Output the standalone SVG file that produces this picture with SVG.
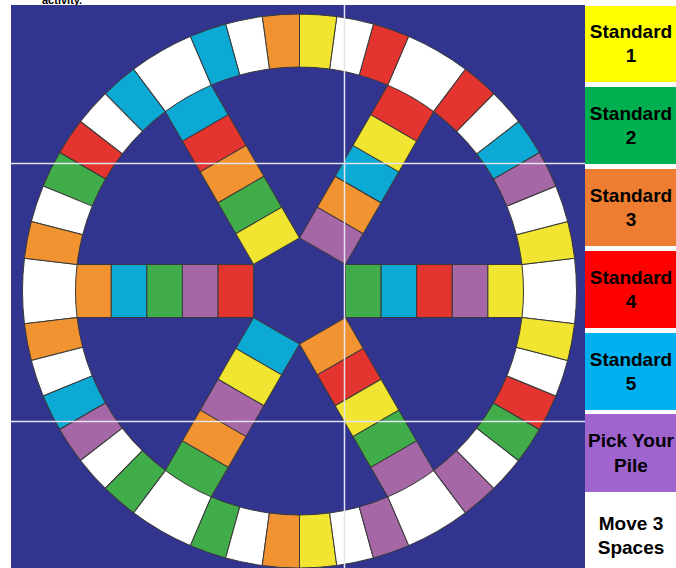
<svg xmlns="http://www.w3.org/2000/svg" xmlns:xlink="http://www.w3.org/1999/xlink" width="676" height="568" viewBox="0 0 676 568">
<style>
.c{stroke:#3a3a3a;stroke-width:1;stroke-linejoin:round}
.Y{fill:#f2e531}.O{fill:#f29331}.R{fill:#e3342f}.G{fill:#40ad4a}.C{fill:#0ca9d5}.P{fill:#a567a5}.W{fill:#ffffff}
.guide{stroke:#e4e4ee;stroke-width:1.5;fill:none}
.lt{font-family:"Liberation Sans",Arial,sans-serif;font-weight:bold;font-size:19px;fill:#000;text-anchor:middle}
</style>
<defs>
<path id="cell" d="M277,0 A277,277 0 0 0 274.48,-37.27 L221.96,-30.14 A224,224 0 0 1 224,0 Z"/>
<path id="junc" d="M275.05,32.8 A277,277 0 0 0 275.05,-32.8 L222.43,-26.53 A224,224 0 0 1 222.43,26.53 Z"/>
<rect id="sq0" x="46" y="-26.5" width="35.6" height="53"/>
<rect id="sq1" x="81.6" y="-26.5" width="35.6" height="53"/>
<rect id="sq2" x="117.2" y="-26.5" width="35.6" height="53"/>
<rect id="sq3" x="152.8" y="-26.5" width="35.6" height="53"/>
<rect id="sq4" x="188.4" y="-26.5" width="36.2" height="53"/>
</defs>
<rect x="0" y="0" width="676" height="568" fill="#ffffff"/>
<text x="42" y="4" font-family="Liberation Sans,Arial,sans-serif" font-weight="bold" font-size="11" fill="#000">activity.</text>
<rect x="11" y="5" width="574" height="563" fill="#32358f"/>

<g id="spokes" transform="translate(299.5,291)">
<g id="spoke0" transform="rotate(0)">
<use xlink:href="#sq0" class="c G"/><use xlink:href="#sq1" class="c C"/><use xlink:href="#sq2" class="c R"/><use xlink:href="#sq3" class="c P"/><use xlink:href="#sq4" class="c Y"/>
</g>
<g id="spoke60" transform="rotate(-60)">
<use xlink:href="#sq0" class="c P"/><use xlink:href="#sq1" class="c O"/><use xlink:href="#sq2" class="c C"/><use xlink:href="#sq3" class="c Y"/><use xlink:href="#sq4" class="c R"/>
</g>
<g id="spoke120" transform="rotate(-120)">
<use xlink:href="#sq0" class="c Y"/><use xlink:href="#sq1" class="c G"/><use xlink:href="#sq2" class="c O"/><use xlink:href="#sq3" class="c R"/><use xlink:href="#sq4" class="c C"/>
</g>
<g id="spoke180" transform="rotate(-180)">
<use xlink:href="#sq0" class="c R"/><use xlink:href="#sq1" class="c P"/><use xlink:href="#sq2" class="c G"/><use xlink:href="#sq3" class="c C"/><use xlink:href="#sq4" class="c O"/>
</g>
<g id="spoke240" transform="rotate(-240)">
<use xlink:href="#sq0" class="c C"/><use xlink:href="#sq1" class="c Y"/><use xlink:href="#sq2" class="c P"/><use xlink:href="#sq3" class="c O"/><use xlink:href="#sq4" class="c G"/>
</g>
<g id="spoke300" transform="rotate(-300)">
<use xlink:href="#sq0" class="c O"/><use xlink:href="#sq1" class="c R"/><use xlink:href="#sq2" class="c Y"/><use xlink:href="#sq3" class="c G"/><use xlink:href="#sq4" class="c P"/>
</g>
</g>

<g id="ring" transform="translate(299.5,291)">
<use xlink:href="#junc" class="c W" transform="rotate(0)"/>
<use xlink:href="#junc" class="c W" transform="rotate(-60)"/>
<use xlink:href="#junc" class="c W" transform="rotate(-120)"/>
<use xlink:href="#junc" class="c W" transform="rotate(-180)"/>
<use xlink:href="#junc" class="c W" transform="rotate(-240)"/>
<use xlink:href="#junc" class="c W" transform="rotate(-300)"/>

<use xlink:href="#cell" class="c Y" transform="rotate(-6.8)"/>
<use xlink:href="#cell" class="c W" transform="rotate(-14.533)"/>
<use xlink:href="#cell" class="c P" transform="rotate(-22.267)"/>
<use xlink:href="#cell" class="c C" transform="rotate(-30)"/>
<use xlink:href="#cell" class="c W" transform="rotate(-37.733)"/>
<use xlink:href="#cell" class="c R" transform="rotate(-45.467)"/>

<use xlink:href="#cell" class="c R" transform="rotate(-66.8)"/>
<use xlink:href="#cell" class="c W" transform="rotate(-74.533)"/>
<use xlink:href="#cell" class="c Y" transform="rotate(-82.267)"/>
<use xlink:href="#cell" class="c O" transform="rotate(-90)"/>
<use xlink:href="#cell" class="c W" transform="rotate(-97.733)"/>
<use xlink:href="#cell" class="c C" transform="rotate(-105.467)"/>

<use xlink:href="#cell" class="c C" transform="rotate(-126.8)"/>
<use xlink:href="#cell" class="c W" transform="rotate(-134.533)"/>
<use xlink:href="#cell" class="c R" transform="rotate(-142.267)"/>
<use xlink:href="#cell" class="c G" transform="rotate(-150)"/>
<use xlink:href="#cell" class="c W" transform="rotate(-157.733)"/>
<use xlink:href="#cell" class="c O" transform="rotate(-165.467)"/>

<use xlink:href="#cell" class="c O" transform="rotate(-186.8)"/>
<use xlink:href="#cell" class="c W" transform="rotate(-194.533)"/>
<use xlink:href="#cell" class="c C" transform="rotate(-202.267)"/>
<use xlink:href="#cell" class="c P" transform="rotate(-210)"/>
<use xlink:href="#cell" class="c W" transform="rotate(-217.733)"/>
<use xlink:href="#cell" class="c G" transform="rotate(-225.467)"/>

<use xlink:href="#cell" class="c G" transform="rotate(-246.8)"/>
<use xlink:href="#cell" class="c W" transform="rotate(-254.533)"/>
<use xlink:href="#cell" class="c O" transform="rotate(-262.267)"/>
<use xlink:href="#cell" class="c Y" transform="rotate(-270)"/>
<use xlink:href="#cell" class="c W" transform="rotate(-277.733)"/>
<use xlink:href="#cell" class="c P" transform="rotate(-285.467)"/>

<use xlink:href="#cell" class="c P" transform="rotate(-306.8)"/>
<use xlink:href="#cell" class="c W" transform="rotate(-314.533)"/>
<use xlink:href="#cell" class="c G" transform="rotate(-322.267)"/>
<use xlink:href="#cell" class="c R" transform="rotate(-330)"/>
<use xlink:href="#cell" class="c W" transform="rotate(-337.733)"/>
<use xlink:href="#cell" class="c Y" transform="rotate(-345.467)"/>
</g>

<g id="guides">
<line class="guide" x1="344.5" y1="5" x2="344.5" y2="568"/>
<line class="guide" x1="11" y1="163.5" x2="585" y2="163.5"/>
<line class="guide" x1="11" y1="421.5" x2="585" y2="421.5"/>
</g>

<g id="legend">
<g id="std1"><rect x="585" y="6" width="91" height="76" fill="#ffff00"/><text class="lt" x="631" y="38">Standard</text><text class="lt" x="631" y="62">1</text></g>
<g id="std2"><rect x="585" y="87" width="91" height="77" fill="#00b050"/><text class="lt" x="631" y="120">Standard</text><text class="lt" x="631" y="144">2</text></g>
<g id="std3"><rect x="585" y="169" width="91" height="77" fill="#ed7d31"/><text class="lt" x="631" y="202">Standard</text><text class="lt" x="631" y="226">3</text></g>
<g id="std4"><rect x="585" y="251" width="91" height="77" fill="#ff0000"/><text class="lt" x="631" y="284">Standard</text><text class="lt" x="631" y="308">4</text></g>
<g id="std5"><rect x="585" y="333" width="91" height="77" fill="#00b0f0"/><text class="lt" x="631" y="366">Standard</text><text class="lt" x="631" y="390">5</text></g>
<g id="pick"><rect x="585" y="414" width="91" height="78" fill="#a064cf"/><text class="lt" x="631" y="447">Pick Your</text><text class="lt" x="631" y="472">Pile</text></g>
<g id="move"><rect x="585" y="492" width="91" height="76" fill="#ffffff"/><text class="lt" x="631" y="530">Move 3</text><text class="lt" x="631" y="554">Spaces</text></g>
</g>
</svg>
